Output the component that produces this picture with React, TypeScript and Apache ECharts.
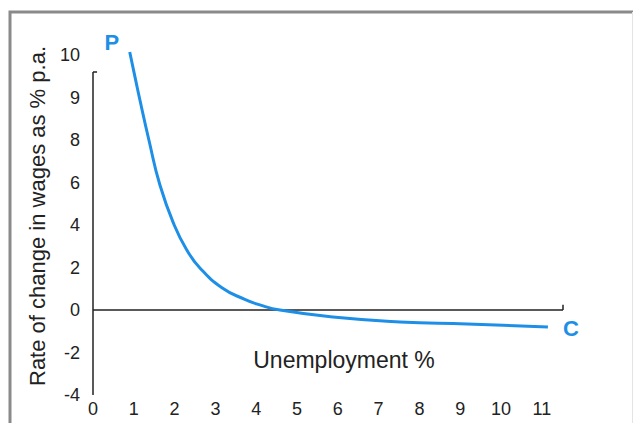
import React, { useEffect, useRef } from "react";
import * as echarts from "echarts";

// Tick labels of the wage axis (evenly spaced on the page, uneven in value)
const Y_TICK_VALUES = [-4, -2, 0, 2, 4, 6, 8, 9, 10];
const Y_TICK_LABELS = ["-4", "-2", "0", "2", "4", "6", "8", "9", "10"];
const X_TICK_LABELS = ["0", "1", "2", "3", "4", "5", "6", "7", "8", "9", "10", "11"];

// Phillips curve: unemployment % vs rate of change in wages (% p.a.)
const unemployment = [0.9, 1.03, 1.15, 1.37, 1.64, 1.99, 2.3, 2.62, 3.16, 3.72, 4.09, 4.58, 5.88, 7.52, 9.17, 11.15];
const wageChange = [10.07, 9.48, 8.94, 8.0, 5.88, 4.0, 2.82, 1.98, 1.05, 0.5, 0.24, 0.0, -0.33, -0.56, -0.66, -0.8];

const AXIS_TOP_VALUE = 9.6; // top end of drawn wage axis line
const X_AXIS_END = 11.52; // right end of drawn unemployment axis line

const FONT = "'Liberation Sans', Arial, Helvetica, sans-serif";
const BLUE = "#1E8FE6";
const INK = "#222";

// piecewise-linear map from wage value to its evenly spaced slot on the axis
function toAxis(v: number): number {
  const slot = (i: number) => -4 + 2 * i;
  if (v <= Y_TICK_VALUES[0]) return slot(0);
  for (let i = 0; i < Y_TICK_VALUES.length - 1; i++) {
    const a = Y_TICK_VALUES[i];
    const b = Y_TICK_VALUES[i + 1];
    if (v <= b) return slot(i) + ((v - a) / (b - a)) * 2;
  }
  const n = Y_TICK_VALUES.length - 1;
  const a = Y_TICK_VALUES[n - 1];
  const b = Y_TICK_VALUES[n];
  return slot(n) + ((v - b) / (b - a)) * 2;
}

export default function App() {
  const ref = useRef<HTMLDivElement>(null);

  useEffect(() => {
    if (!ref.current) return;
    const chart = echarts.init(ref.current, undefined, { renderer: "svg" });
    const pts = unemployment.map((x, i) => [x, toAxis(wageChange[i])]);
    const first = pts[0];
    const last = pts[pts.length - 1];
    const axTop = toAxis(AXIS_TOP_VALUE);
    const axBottom = toAxis(-4);

    chart.setOption({
      animation: false,
      backgroundColor: "#fff",
      grid: { left: 93, right: 50.4, top: 33.75, bottom: 28, containLabel: false },
      xAxis: {
        type: "value",
        min: 0,
        max: 12,
        interval: 1,
        axisLine: { show: false },
        axisTick: { show: false },
        splitLine: { show: false },
        axisLabel: {
          margin: 5,
          fontSize: 18,
          color: INK,
          fontFamily: FONT,
          formatter: (v: number) => (v <= 11 ? X_TICK_LABELS[Math.round(v)] : ""),
        },
      },
      yAxis: {
        type: "value",
        min: -4,
        max: 13,
        interval: 2,
        axisLine: { show: false },
        axisTick: { show: false },
        splitLine: { show: false },
        axisLabel: {
          margin: 13,
          fontSize: 18,
          color: INK,
          fontFamily: FONT,
          showMaxLabel: false,
          formatter: (v: number) => {
            const k = (v + 4) / 2;
            return Number.isInteger(k) ? Y_TICK_LABELS[k] ?? "" : "";
          },
        },
      },
      series: [
        {
          type: "line",
          data: pts,
          smooth: 0.5,
          showSymbol: false,
          symbol: "none",
          z: 3,
          lineStyle: { color: BLUE, width: 3 },
          markLine: {
            z: 1,
            silent: true,
            symbol: ["none", "none"],
            label: { show: false },
            lineStyle: { color: INK, width: 1.5, type: "solid" },
            data: [
              [{ coord: [0, axBottom] }, { coord: [0, axTop] }],
              [{ coord: [0, axTop] }, { coord: [0.1, axTop] }],
              [{ coord: [0, 0] }, { coord: [X_AXIS_END, 0] }],
              [{ coord: [X_AXIS_END, 0] }, { coord: [X_AXIS_END, 0.25] }],
            ],
          },
          markPoint: {
            silent: true,
            symbol: "circle",
            symbolSize: 1,
            itemStyle: { color: "transparent" },
            label: {
              show: true,
              position: "inside",
              color: BLUE,
              fontWeight: "bold",
              fontSize: 22,
              fontFamily: FONT,
            },
            data: [
              { coord: first, label: { formatter: "P", offset: [-18, -10] } },
              { coord: last, label: { formatter: "C", offset: [23, 1] } },
            ],
          },
        },
      ],
      graphic: [
        {
          type: "rect",
          silent: true,
          shape: { x: 10, y: 12, width: 700, height: 500 },
          style: { fill: "none", stroke: "#8a8a8a", lineWidth: 3 },
        },
        {
          type: "line",
          silent: true,
          shape: { x1: 632.5, y1: 12, x2: 632.5, y2: 423 },
          style: { stroke: "#e4e4e4", lineWidth: 1 },
        },
        {
          type: "text",
          x: 37,
          y: 216,
          rotation: Math.PI / 2,
          style: {
            text: "Rate of change in wages as % p.a.",
            fontSize: 22,
            fontFamily: FONT,
            fill: INK,
            textAlign: "center",
            textVerticalAlign: "middle",
            verticalAlign: "middle",
          },
        },
        {
          type: "text",
          x: 344,
          y: 360,
          style: {
            text: "Unemployment %",
            fontSize: 23,
            fontFamily: FONT,
            fill: INK,
            textAlign: "center",
            textVerticalAlign: "middle",
            verticalAlign: "middle",
          },
        },
      ],
    });

    return () => chart.dispose();
  }, []);

  return (
    <div
      ref={ref}
      style={{ position: "fixed", left: 0, top: 0, width: 633, height: 423, background: "#fff" }}
    />
  );
}
